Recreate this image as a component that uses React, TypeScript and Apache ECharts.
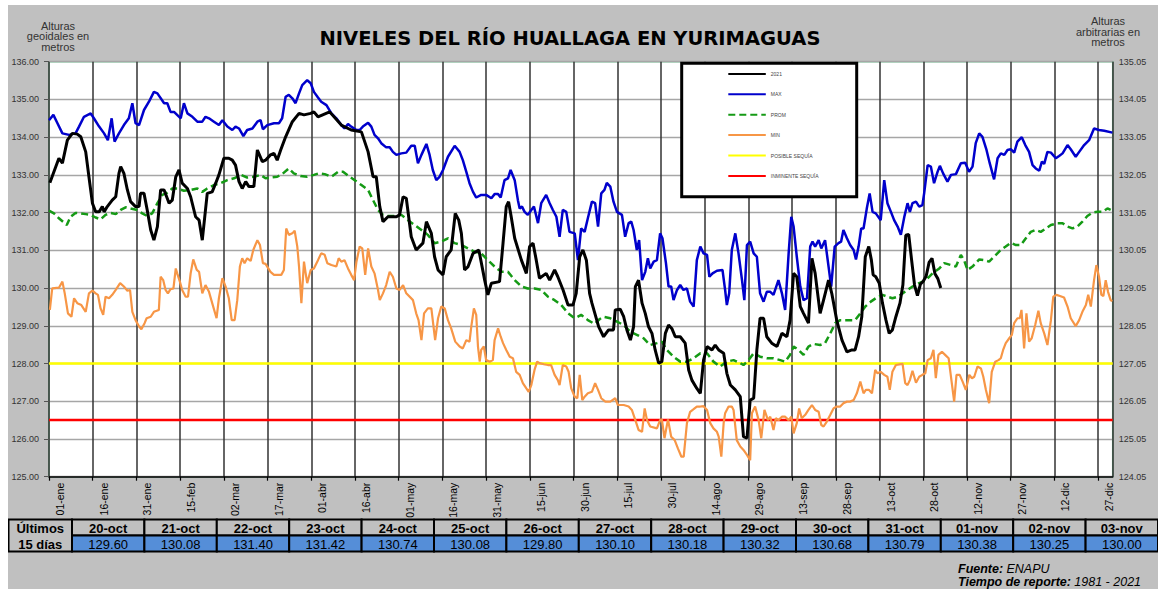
import React, { useEffect, useRef } from "react";
import * as echarts from "echarts";

// ---------- DATA ----------
const xTickLabels = [
  "01-ene", "16-ene", "31-ene", "15-feb", "02-mar", "17-mar", "01-abr", "16-abr", "01-may",
  "16-may", "31-may", "15-jun", "30-jun", "15-jul", "30-jul", "14-ago", "29-ago", "13-sep",
  "28-sep", "13-oct", "28-oct", "12-nov", "27-nov", "12-dic", "27-dic",
];
const RIGHT_AXIS_OFFSET = 0.95; // alturas arbitrarias = geoidales - 0.95
const POSIBLE_SEQUIA = 128.0;
const INMINENTE_SEQUIA = 126.5;

const tableDates = [
  "20-oct", "21-oct", "22-oct", "23-oct", "24-oct", "25-oct", "26-oct", "27-oct",
  "28-oct", "29-oct", "30-oct", "31-oct", "01-nov", "02-nov", "03-nov",
];
const tableValues = [
  129.6, 130.08, 131.4, 131.42, 130.74, 130.08, 129.8, 130.1, 130.18, 130.32, 130.68, 130.79,
  130.38, 130.25, 130.0,
];
const TABLE_FIRST_DAY = 292; // 20-oct (day of year, 0 = 01-ene)

// 2021 levels (day of year, metres) up to 19-oct
const nivel2021Read: [number, number][] = [
  [0.3, 132.79], [3.4, 133.44], [4.6, 133.31], [6.3, 133.92], [8.0, 134.1], [9.7, 134.08], [10.9, 134.01],
  [12.6, 133.61], [13.7, 132.95], [14.9, 132.25], [16.0, 132.02], [17.2, 132.02], [18.3, 132.16],
  [18.9, 132.02], [20.0, 132.16], [21.7, 132.33], [22.9, 132.42], [24.0, 133.04], [24.6, 133.22],
  [25.7, 133.04], [26.9, 132.6], [28.0, 132.29], [29.7, 132.16], [30.9, 132.16], [31.4, 132.51],
  [32.6, 132.51], [33.7, 132.07], [34.9, 131.54], [36.0, 131.27], [37.2, 131.63], [38.3, 132.6],
  [39.5, 132.6], [41.2, 132.25], [42.3, 132.33], [43.5, 132.95], [44.6, 133.13], [45.7, 132.78],
  [47.5, 132.64], [48.6, 132.42], [50.3, 131.89], [51.5, 131.8], [52.6, 131.27], [54.3, 132.51],
  [56.0, 132.55], [57.2, 132.78], [58.3, 133.0], [60.0, 133.44], [61.7, 133.44], [62.9, 133.39],
  [64.0, 133.26], [65.2, 132.82], [66.3, 132.64], [67.5, 132.82], [68.6, 132.69], [70.3, 132.69],
  [71.5, 133.66], [73.2, 133.35], [74.3, 133.39], [76.0, 133.53], [77.2, 133.57], [78.3, 133.39],
  [79.5, 133.66], [81.2, 134.01], [83.5, 134.41], [85.8, 134.63], [87.5, 134.59], [89.8, 134.63],
  [90.9, 134.67], [92.3, 134.54], [96.3, 134.67], [100.3, 134.32], [103.7, 134.19], [107.2, 134.14],
  [109.5, 133.61], [111.2, 132.95], [112.3, 132.95], [113.5, 132.16], [114.6, 131.76], [116.3, 131.89],
  [119.2, 131.89], [120.3, 131.94], [121.5, 132.42], [122.6, 132.38], [124.3, 131.36], [126.0, 131.01],
  [128.3, 131.19], [129.5, 131.76], [131.2, 131.45], [132.3, 130.83], [133.5, 130.48], [135.2, 130.35],
  [136.3, 130.83], [138.0, 131.01], [139.4, 131.98], [140.6, 131.8], [141.5, 131.45], [142.6, 130.48],
  [143.8, 130.57], [145.5, 130.92], [147.5, 131.01], [149.5, 130.21], [150.6, 129.82], [151.8, 130.13],
  [154.6, 130.17], [155.8, 131.19], [156.9, 132.16], [157.7, 132.29], [158.6, 131.89], [159.8, 131.32],
  [162.1, 130.74], [163.8, 130.39], [164.9, 131.1], [166.1, 131.19], [167.2, 130.74], [168.3, 130.26],
  [170.6, 130.39], [171.8, 130.21], [173.5, 130.48], [174.6, 130.3], [176.4, 129.95], [178.1, 129.55],
  [179.8, 129.55], [180.9, 129.86], [182.1, 130.83], [183.2, 131.01], [184.4, 130.74], [185.5, 129.86],
  [186.3, 129.6], [188.6, 128.98], [190.3, 128.71], [192.0, 128.89], [193.7, 128.89], [194.3, 129.42],
  [196.0, 129.44], [197.2, 129.24], [198.3, 128.89], [199.5, 128.62], [200.6, 128.98], [201.2, 130.04],
  [202.3, 130.21], [203.5, 129.6], [204.6, 129.33], [205.7, 128.98], [206.9, 128.8], [208.0, 128.36],
  [209.2, 128.01], [210.3, 128.05], [211.5, 128.8], [212.6, 129.02], [213.7, 128.93], [214.9, 128.71],
  [216.6, 128.71], [218.3, 128.54], [219.5, 127.83], [220.6, 127.56], [222.3, 127.34], [223.5, 127.21],
  [224.6, 128.09], [225.8, 128.45], [227.5, 128.36], [228.6, 128.49], [229.8, 128.36], [231.5, 128.27],
  [232.6, 127.74], [233.8, 127.43], [235.5, 127.3], [237.2, 127.12], [238.3, 126.06], [239.5, 126.02],
  [240.6, 127.03], [241.8, 127.08], [242.9, 128.36], [244.0, 129.2], [245.2, 129.2], [246.3, 128.71],
  [248.0, 128.54], [249.8, 128.45], [251.5, 128.8], [253.2, 128.71], [254.3, 129.15], [255.5, 130.39],
  [256.6, 130.3], [257.8, 129.51], [258.9, 129.33], [260.6, 129.07], [261.8, 130.79], [262.9, 130.39],
  [264.6, 129.33], [265.8, 129.69], [267.5, 130.21], [268.6, 129.86], [270.3, 129.15], [272.1, 128.62],
  [273.8, 128.31], [275.5, 128.36], [276.6, 128.36], [277.8, 128.71], [278.9, 129.24], [280.1, 130.83],
  [281.3, 131.1], [282.2, 130.74], [282.8, 130.35], [283.7, 130.3], [284.9, 130.13], [286.0, 129.6],
  [287.2, 129.15], [288.3, 128.8], [289.4, 128.89], [290.6, 129.24],
];

const nivelMax: [number, number][] = [
  [0, 134.45], [1.5, 134.59], [2.9, 134.37], [4.6, 134.1], [6.9, 134.06], [9.1, 134.1], [10.3, 134.28],
  [12.0, 134.54], [14.3, 134.63], [15.4, 134.5], [17.2, 134.28], [18.9, 134.1], [20.2, 133.92],
  [21.5, 134.5], [22.5, 133.88], [24.0, 134.1], [25.7, 134.32], [27.4, 134.5], [28.6, 134.9],
  [29.7, 134.37], [30.9, 134.32], [32.6, 134.72], [34.3, 134.94], [36.0, 135.2], [37.2, 135.16],
  [39.5, 134.9], [40.6, 134.9], [41.7, 134.67], [42.9, 134.67], [45.2, 134.5], [46.3, 134.9],
  [47.5, 134.63], [49.2, 134.54], [50.9, 134.41], [52.6, 134.41], [53.7, 134.54], [54.9, 134.5],
  [56.6, 134.41], [58.3, 134.32], [59.5, 134.45], [61.2, 134.28], [62.9, 134.19], [64.0, 134.28],
  [65.2, 134.23], [66.7, 134.03], [68.0, 134.19], [69.8, 134.23], [71.5, 134.41], [72.6, 134.45],
  [73.4, 134.21], [74.9, 134.32], [77.2, 134.37], [78.9, 134.37], [80.0, 134.5], [81.2, 135.07],
  [82.3, 135.12], [83.5, 135.03], [84.6, 134.9], [85.8, 135.16], [86.9, 135.38], [88.6, 135.51],
  [89.8, 135.43], [90.9, 135.2], [92.3, 135.05], [93.4, 134.94], [95.2, 134.85], [96.9, 134.63],
  [98.6, 134.5], [100.3, 134.32], [101.4, 134.23], [102.6, 134.35], [103.7, 134.28], [105.5, 134.19],
  [106.6, 134.19], [107.7, 134.28], [109.5, 134.38], [110.6, 134.28], [111.7, 134.06], [112.9, 133.97],
  [114.0, 133.84], [115.7, 133.73], [116.9, 133.73], [118.0, 133.61], [119.2, 133.53], [120.9, 133.57],
  [122.6, 133.59], [124.3, 133.77], [125.5, 133.77], [126.6, 133.31], [127.8, 133.53], [129.5, 133.82],
  [130.6, 133.53], [131.7, 133.13], [132.9, 132.86], [134.0, 132.95], [135.2, 133.13], [136.9, 133.48],
  [139.2, 133.77], [140.9, 133.61], [142.0, 133.39], [143.2, 133.08], [144.3, 132.78], [145.5, 132.55],
  [146.6, 132.4], [148.3, 132.47], [150.0, 132.47], [151.8, 132.38], [152.9, 132.49], [154.1, 132.49],
  [155.0, 132.4], [156.3, 132.86], [157.5, 132.91], [158.4, 133.13], [159.8, 132.86], [160.9, 132.33],
  [161.5, 132.11], [162.3, 132.16], [163.2, 132.02], [164.3, 131.94], [165.5, 132.07], [166.4, 132.16],
  [167.8, 131.72], [168.9, 132.25], [170.6, 132.47], [171.8, 132.25], [172.9, 132.07], [174.1, 131.89],
  [175.2, 131.36], [176.3, 132.07], [177.5, 132.02], [178.6, 131.49], [180.4, 131.45], [181.5, 130.74],
  [182.6, 131.58], [183.8, 131.49], [184.9, 131.85], [186.3, 132.29], [187.4, 132.25], [188.4, 131.63],
  [189.5, 132.51], [190.6, 132.6], [191.4, 132.79], [192.6, 132.69], [193.7, 132.29], [194.9, 132.02],
  [196.6, 131.94], [197.7, 131.36], [198.9, 131.72], [199.8, 131.76], [200.6, 131.54], [201.7, 131.01],
  [202.5, 131.27], [203.5, 130.21], [204.6, 130.43], [205.5, 130.79], [206.3, 130.52], [207.5, 130.7],
  [208.6, 130.74], [209.7, 131.45], [210.5, 131.32], [211.7, 130.66], [212.6, 130.04], [213.5, 130.04],
  [214.3, 129.68], [215.5, 129.95], [216.6, 130.08], [217.7, 129.95], [218.9, 129.99], [220.0, 129.64],
  [221.2, 129.51], [222.3, 130.74], [223.5, 131.1], [224.6, 130.92], [225.8, 130.88], [226.6, 130.3],
  [227.7, 130.39], [229.2, 130.46], [231.1, 130.48], [232.0, 129.95], [232.6, 129.55], [233.4, 129.86],
  [234.3, 131.01], [235.5, 131.45], [236.6, 130.92], [237.8, 130.21], [238.6, 129.68], [239.5, 131.14],
  [240.6, 131.23], [241.8, 130.92], [242.9, 130.83], [244.0, 129.86], [245.2, 129.64], [246.3, 129.9],
  [247.5, 129.9], [248.6, 129.82], [250.3, 130.21], [251.5, 129.86], [252.6, 129.42], [253.8, 130.92],
  [254.7, 131.89], [255.5, 131.63], [256.6, 130.83], [257.8, 130.04], [258.9, 129.68], [260.1, 129.73],
  [261.2, 131.1], [262.0, 131.23], [262.9, 131.1], [264.1, 131.27], [265.0, 131.05], [266.3, 131.27],
  [267.5, 130.57], [268.4, 130.04], [269.6, 131.1], [270.9, 131.19], [271.8, 131.23], [272.6, 131.54],
  [273.8, 131.32], [274.9, 131.14], [276.1, 131.01], [276.9, 130.76], [277.8, 131.1], [278.7, 131.58],
  [279.5, 131.58], [280.6, 132.1], [281.6, 132.51], [282.6, 132.02], [283.7, 131.98], [285.4, 131.8],
  [286.6, 132.86], [287.7, 132.25], [288.9, 132.02], [290.0, 131.8], [291.2, 131.63], [292.3, 131.41],
  [293.5, 131.89], [294.6, 132.25], [295.4, 132.02], [296.3, 132.25], [297.5, 132.29], [298.6, 132.16],
  [299.7, 132.2], [300.3, 132.51], [301.5, 133.26], [302.6, 133.22], [303.7, 132.78], [304.9, 133.08],
  [305.7, 133.24], [306.8, 133.04], [308.3, 132.82], [309.5, 133.0], [311.2, 133.02], [312.9, 133.31],
  [314.4, 133.32], [315.7, 133.08], [316.9, 133.22], [318.0, 133.84], [319.2, 134.1], [320.3, 134.01],
  [321.7, 133.66], [322.8, 133.31], [324.3, 132.88], [325.5, 133.44], [326.6, 133.57], [327.8, 133.53],
  [328.9, 133.66], [330.0, 133.68], [331.2, 133.59], [332.3, 133.88], [333.8, 134.0], [335.0, 133.79],
  [336.3, 133.61], [337.5, 133.26], [338.6, 133.17], [339.8, 133.11], [340.7, 133.35], [341.5, 133.29],
  [342.6, 133.61], [343.8, 133.59], [345.5, 133.44], [346.6, 133.5], [347.8, 133.57], [349.5, 133.79],
  [350.6, 133.68], [352.3, 133.48], [353.5, 133.61], [355.2, 133.79], [356.9, 133.92], [358.6, 134.23],
  [360.3, 134.19], [362.1, 134.17], [364.9, 134.12],
];

const nivelProm: [number, number][] = [
  [0, 132.05], [1.7, 131.98], [3.4, 131.85], [6.1, 131.67], [7.4, 131.89], [9.1, 131.99], [10.9, 131.98],
  [12.6, 131.96], [14.3, 131.94], [16.0, 131.87], [17.7, 131.82], [19.4, 131.94], [21.2, 131.99],
  [22.9, 131.96], [24.6, 132.07], [26.3, 132.14], [28.0, 132.11], [30.3, 132.07], [32.0, 131.98],
  [33.7, 131.91], [35.4, 131.98], [37.2, 132.25], [38.9, 132.47], [40.6, 132.53], [42.3, 132.64],
  [44.0, 132.64], [46.3, 132.58], [48.6, 132.6], [50.9, 132.64], [52.6, 132.55], [54.3, 132.64],
  [56.6, 132.73], [58.9, 132.78], [61.2, 132.86], [63.5, 132.91], [65.8, 133.0], [68.0, 132.93],
  [70.3, 132.95], [72.6, 133.0], [74.3, 132.91], [76.0, 132.93], [78.3, 132.95], [80.0, 133.02],
  [82.3, 133.17], [84.0, 133.04], [86.3, 132.97], [88.6, 132.95], [90.9, 133.0], [92.6, 133.04],
  [94.6, 133.02], [96.9, 132.95], [99.2, 133.08], [100.9, 133.08], [103.2, 132.95], [104.9, 132.86],
  [107.2, 132.73], [109.5, 132.6], [111.2, 132.33], [112.9, 132.07], [114.6, 131.94], [116.3, 131.91],
  [118.6, 131.91], [120.9, 131.94], [123.2, 131.8], [125.5, 131.67], [127.8, 131.54], [130.0, 131.41],
  [132.3, 131.19], [134.6, 131.23], [136.9, 131.32], [139.2, 131.19], [141.5, 131.14], [143.8, 131.05],
  [146.1, 130.96], [148.3, 130.92], [150.6, 130.74], [152.9, 130.57], [155.2, 130.43], [157.5, 130.43],
  [159.8, 130.21], [162.1, 130.04], [164.3, 129.99], [166.6, 129.99], [168.9, 129.95], [171.2, 129.77],
  [173.5, 129.68], [175.8, 129.55], [178.1, 129.33], [180.4, 129.2], [182.6, 129.29], [184.9, 129.15],
  [187.2, 129.05], [189.0, 129.18], [190.3, 129.24], [192.6, 129.2], [194.9, 129.11], [197.2, 129.02],
  [199.5, 128.84], [201.7, 128.76], [204.0, 128.67], [206.3, 128.49], [208.6, 128.54], [210.3, 128.58],
  [212.0, 128.36], [214.3, 128.18], [216.6, 128.05], [218.9, 128.05], [221.2, 128.14], [223.5, 128.27],
  [225.8, 128.27], [228.0, 128.05], [230.3, 127.92], [232.6, 128.05], [234.9, 128.09], [237.2, 128.01],
  [238.3, 127.96], [240.0, 128.09], [241.8, 128.27], [244.0, 128.18], [246.3, 128.14], [248.6, 128.14],
  [250.9, 128.09], [252.6, 128.05], [254.3, 128.23], [255.5, 128.45], [257.2, 128.36], [258.9, 128.23],
  [260.6, 128.45], [262.3, 128.52], [264.6, 128.49], [266.3, 128.54], [268.1, 128.8], [269.8, 129.07],
  [271.5, 129.15], [273.8, 129.15], [276.6, 129.15], [278.4, 129.33], [280.1, 129.51], [282.0, 129.64],
  [283.7, 129.73], [286.0, 129.82], [287.7, 129.77], [289.4, 129.73], [291.2, 129.77], [292.9, 129.86],
  [294.6, 129.95], [296.3, 130.04], [298.6, 130.13], [300.9, 130.21], [303.2, 130.39], [305.5, 130.52],
  [307.2, 130.66], [309.5, 130.61], [311.2, 130.57], [312.9, 130.88], [314.0, 130.74], [315.2, 130.48],
  [316.9, 130.57], [319.2, 130.76], [320.9, 130.74], [322.6, 130.7], [324.3, 130.83], [326.6, 131.01],
  [328.3, 131.1], [330.0, 131.2], [331.8, 131.14], [333.5, 131.14], [335.2, 131.32], [336.9, 131.49],
  [338.6, 131.54], [340.3, 131.49], [342.1, 131.58], [343.8, 131.67], [346.1, 131.72], [347.8, 131.72],
  [349.5, 131.63], [351.2, 131.58], [352.9, 131.63], [354.6, 131.76], [356.3, 131.91], [358.1, 132.0],
  [359.8, 132.02], [361.5, 132.02], [363.2, 132.11], [364.3, 132.07],
];

const nivelMin: [number, number][] = [
  [0.3, 129.42], [1.1, 129.99], [3.4, 130.01], [4.6, 130.17], [5.4, 129.86], [6.5, 129.33], [7.7, 129.24],
  [8.6, 129.73], [9.7, 129.6], [11.1, 129.55], [12.6, 129.37], [13.7, 129.86], [14.9, 129.93],
  [16.0, 129.86], [16.8, 129.82], [17.7, 129.46], [18.6, 129.29], [19.4, 129.77], [20.6, 129.73],
  [21.7, 129.82], [22.9, 129.95], [24.4, 130.13], [25.7, 130.04], [26.9, 129.93], [27.8, 129.95],
  [28.6, 129.37], [29.7, 129.15], [30.9, 128.98], [31.7, 128.91], [32.8, 129.07], [33.5, 129.2],
  [34.9, 129.24], [36.0, 129.37], [37.7, 129.42], [38.3, 130.3], [39.2, 130.21], [40.0, 129.95],
  [40.8, 129.86], [41.7, 129.97], [42.7, 129.99], [43.5, 130.52], [44.0, 130.39], [44.9, 130.17],
  [45.7, 129.95], [46.9, 129.77], [47.7, 129.77], [48.6, 130.39], [49.5, 130.76], [50.7, 130.48],
  [51.5, 130.43], [52.6, 129.86], [53.7, 130.08], [54.9, 129.9], [56.0, 129.6], [57.5, 129.2],
  [58.3, 129.73], [59.5, 130.26], [60.6, 130.04], [61.7, 129.73], [62.7, 129.15], [63.7, 129.15],
  [64.6, 129.68], [65.5, 130.57], [66.3, 130.79], [67.1, 130.66], [68.0, 130.79], [69.2, 130.72],
  [70.1, 131.01], [71.5, 131.27], [72.4, 131.14], [73.4, 130.66], [74.3, 130.64], [76.0, 130.43],
  [77.2, 130.35], [79.7, 130.35], [80.6, 130.48], [81.4, 131.58], [82.3, 131.41], [83.5, 131.45],
  [84.3, 131.52], [85.2, 131.1], [85.8, 130.57], [86.6, 129.6], [87.5, 130.7], [88.0, 130.43],
  [88.6, 130.13], [89.8, 130.48], [90.9, 130.52], [92.3, 130.74], [93.4, 130.92], [94.6, 130.88],
  [95.5, 130.66], [96.9, 130.61], [98.6, 130.57], [99.4, 130.79], [100.3, 130.7], [101.4, 130.74],
  [102.6, 130.52], [103.7, 130.35], [104.7, 130.21], [105.5, 130.7], [106.6, 131.1], [107.5, 131.05],
  [108.5, 130.35], [109.5, 131.05], [110.6, 130.57], [111.7, 130.39], [112.9, 129.95], [113.5, 129.68],
  [114.6, 129.86], [115.7, 130.08], [116.9, 130.43], [118.0, 130.3], [119.2, 129.99], [120.3, 129.95],
  [121.5, 130.08], [122.6, 129.86], [124.9, 129.68], [126.0, 129.33], [126.8, 129.15], [127.8, 128.62],
  [128.7, 129.33], [130.0, 129.46], [131.2, 129.46], [132.5, 128.62], [133.5, 129.2], [134.6, 129.51],
  [135.8, 129.46], [136.9, 129.15], [138.0, 128.93], [139.4, 128.58], [140.9, 128.45], [142.0, 128.4],
  [143.2, 128.62], [144.3, 128.58], [144.9, 128.98], [145.8, 129.46], [146.6, 129.29], [147.2, 128.45],
  [147.8, 128.05], [148.3, 128.36], [149.2, 128.45], [150.0, 128.09], [151.2, 128.05], [152.3, 128.09],
  [152.9, 128.62], [154.1, 128.93], [155.0, 128.71], [155.8, 128.54], [156.9, 128.36], [158.1, 128.18],
  [159.2, 128.14], [160.3, 127.78], [161.5, 127.7], [162.6, 127.48], [163.8, 127.34], [164.6, 127.25],
  [165.5, 127.43], [166.6, 127.83], [167.5, 128.05], [168.3, 128.01], [169.8, 127.98], [171.2, 127.96],
  [172.3, 127.96], [173.5, 127.7], [174.6, 127.56], [175.2, 127.43], [176.3, 127.96], [177.5, 127.92],
  [178.3, 127.78], [179.2, 127.34], [180.4, 127.12], [181.3, 127.08], [182.1, 127.7], [183.0, 127.03],
  [183.8, 127.12], [184.9, 127.21], [186.3, 127.25], [187.4, 127.48], [188.4, 127.3], [189.5, 127.08],
  [190.9, 126.99], [192.6, 126.99], [194.3, 127.08], [195.2, 126.9], [197.2, 126.9], [198.9, 126.86],
  [200.0, 126.77], [201.2, 126.5], [202.3, 126.24], [203.5, 126.19], [204.4, 126.81], [205.2, 126.5],
  [206.3, 126.33], [208.6, 126.28], [209.7, 126.5], [210.3, 126.52], [211.2, 126.02], [212.4, 126.52],
  [213.5, 126.06], [214.7, 125.97], [215.8, 125.75], [217.0, 125.53], [217.8, 125.53], [218.9, 126.42],
  [220.0, 126.72], [221.2, 126.79], [222.3, 126.86], [223.5, 126.86], [224.6, 126.87], [225.8, 126.77],
  [226.9, 126.42], [228.0, 126.28], [229.2, 126.19], [229.8, 126.06], [230.7, 125.53], [231.5, 126.42],
  [232.0, 126.68], [233.2, 126.86], [234.3, 126.86], [234.9, 126.77], [236.0, 125.97], [237.2, 125.8],
  [238.3, 125.71], [239.5, 125.58], [240.6, 125.44], [241.2, 126.68], [242.3, 126.86], [243.5, 126.5],
  [244.4, 126.02], [245.5, 126.77], [246.7, 126.5], [247.5, 126.59], [248.6, 126.24], [249.4, 126.55],
  [250.3, 126.5], [251.5, 126.59], [252.6, 126.59], [253.8, 126.5], [254.7, 126.59], [255.5, 126.15],
  [256.6, 126.42], [257.4, 126.81], [258.3, 126.55], [259.5, 126.64], [260.6, 126.77], [261.8, 126.9],
  [262.9, 126.77], [264.1, 126.72], [265.0, 126.37], [265.8, 126.33], [266.9, 126.46], [268.1, 126.64],
  [269.2, 126.81], [270.3, 126.86], [271.5, 126.86], [272.6, 126.95], [273.8, 126.99], [274.9, 126.99],
  [276.1, 127.03], [277.2, 127.21], [278.4, 127.52], [279.5, 127.21], [280.3, 127.3], [281.4, 127.3],
  [282.4, 127.21], [283.5, 127.83], [284.3, 127.74], [285.4, 127.78], [286.6, 127.7], [287.7, 127.65],
  [288.5, 127.3], [289.4, 127.78], [290.6, 127.96], [292.9, 127.99], [293.8, 127.48], [294.6, 127.43],
  [295.4, 127.56], [296.3, 127.81], [297.5, 127.49], [298.6, 127.65], [299.7, 127.7], [300.7, 127.74],
  [301.5, 128.09], [302.6, 128.14], [303.5, 128.36], [304.3, 127.61], [305.2, 128.23], [306.4, 128.31],
  [307.5, 128.23], [308.7, 128.14], [309.5, 127.65], [310.6, 126.99], [311.4, 127.7], [312.5, 127.7],
  [313.5, 127.52], [314.6, 127.3], [315.8, 127.7], [316.7, 127.61], [317.5, 127.65], [318.6, 127.92],
  [319.8, 127.87], [320.6, 127.65], [321.5, 127.3], [322.6, 126.95], [323.5, 127.78], [324.7, 128.05],
  [325.8, 128.09], [326.6, 128.14], [327.4, 128.36], [328.3, 128.54], [329.5, 128.67], [330.4, 128.76],
  [331.2, 129.07], [332.3, 129.2], [333.1, 129.2], [333.7, 129.42], [334.6, 128.4], [335.4, 129.33],
  [336.3, 128.58], [337.2, 128.67], [338.4, 129.02], [339.5, 129.4], [340.3, 129.07], [341.5, 128.8],
  [342.6, 128.49], [343.8, 129.15], [344.6, 129.77], [345.7, 129.82], [346.9, 129.79], [348.3, 129.75],
  [349.5, 129.51], [350.6, 129.2], [352.3, 128.99], [353.5, 129.15], [354.6, 129.37], [355.8, 129.55],
  [356.6, 129.82], [357.5, 129.51], [358.6, 130.21], [359.4, 130.61], [360.3, 130.3], [361.1, 129.82],
  [361.8, 129.79], [362.6, 130.21], [363.4, 129.9], [364.3, 129.68], [364.9, 129.66],
];

// ---------- LAYOUT / STYLE ----------
const FONT = "'Liberation Sans', Arial, sans-serif";
const W = 1158;
const H = 589;
const BG = "#C0C0C0";

export default function App() {
  const ref = useRef<HTMLDivElement>(null);

  useEffect(() => {
    const chart = echarts.init(ref.current!, null, { renderer: "svg", width: W, height: H });

    const nivel2021: [number, number][] = [
      ...nivel2021Read,
      ...tableValues.map((v, i) => [TABLE_FIRST_DAY + i, v] as [number, number]),
    ];

    // table graphics
    const tLeft = 8.5;
    const tTop = 519.5;
    const rowH = 16;
    const firstW = 72 - tLeft;
    const cellW = (W - 72) / tableDates.length;
    const tableEls: any[] = [
      {
        type: "rect",
        z: 50,
        shape: { x: tLeft, y: tTop, width: firstW, height: rowH * 2 },
        style: { fill: BG, stroke: "#000", lineWidth: 2 },
      },
      {
        type: "text",
        z: 51,
        x: tLeft + firstW / 2,
        y: tTop + rowH / 2 + 0.5,
        style: { text: "Últimos", font: `bold 13px ${FONT}`, fill: "#000", align: "center", verticalAlign: "middle" },
      },
      {
        type: "text",
        z: 51,
        x: tLeft + firstW / 2,
        y: tTop + rowH * 1.5 + 0.5,
        style: { text: "15 días", font: `bold 13px ${FONT}`, fill: "#000", align: "center", verticalAlign: "middle" },
      },
    ];
    tableDates.forEach((d, i) => {
      const x = 72 + i * cellW;
      tableEls.push(
        {
          type: "rect",
          z: 50,
          shape: { x, y: tTop, width: cellW, height: rowH },
          style: { fill: BG, stroke: "#000", lineWidth: 2 },
        },
        {
          type: "rect",
          z: 50,
          shape: { x, y: tTop + rowH, width: cellW, height: rowH },
          style: { fill: "#558ED8", stroke: "#000", lineWidth: 2 },
        },
        {
          type: "text",
          z: 51,
          x: x + cellW / 2,
          y: tTop + rowH / 2 + 0.5,
          style: { text: d, font: `bold 13px ${FONT}`, fill: "#000", align: "center", verticalAlign: "middle" },
        },
        {
          type: "text",
          z: 51,
          x: x + cellW / 2,
          y: tTop + rowH * 1.5 + 0.5,
          style: {
            text: tableValues[i].toFixed(2),
            font: `13px ${FONT}`,
            fill: "#000",
            align: "center",
            verticalAlign: "middle",
          },
        }
      );
    });

    const lineSeries = (name: string, data: [number, number][], color: string, width: number, z: number, type: any = "solid") => ({
      name,
      type: "line",
      data,
      symbol: "none",
      z,
      lineStyle: { color, width, type },
      itemStyle: { color },
      emphasis: { disabled: true },
    });

    const footRich = {
      b: { fontWeight: "bold", fontStyle: "italic", fontSize: 12.5, fontFamily: FONT, fill: "#000" },
      i: { fontStyle: "italic", fontSize: 12.5, fontFamily: FONT, fill: "#000" },
    };

    const option: any = {
      animation: false,
      backgroundColor: BG,
      textStyle: { fontFamily: FONT },
      title: {
        text: "NIVELES DEL RÍO HUALLAGA EN YURIMAGUAS",
        left: 565,
        top: 23,
        textAlign: "center",
        textStyle: { fontSize: 19.5, fontWeight: "bold", color: "#000", fontFamily: "'DejaVu Sans', sans-serif" },
      },
      grid: {
        left: 49,
        top: 61.7,
        right: W - 1112.7,
        bottom: H - 476.7,
        show: true,
        backgroundColor: "#fff",
        borderColor: "#6cbf8f",
        borderWidth: 1.5,
      },
      legend: {
        orient: "vertical",
        left: 727.3,
        top: 70.7,
        itemWidth: 37.5,
        itemHeight: 8,
        itemGap: 14,
        padding: 0,
        z: 60,
        selectedMode: false,
        itemStyle: { opacity: 0 },
        lineStyle: { width: 2 },
        textStyle: { fontSize: 5, color: "#444", fontFamily: FONT },
        data: ["2021", "MAX", "PROM", "MIN", "POSIBLE SEQUÍA", "INMINENTE SEQUÍA"],
      },
      xAxis: {
        type: "value",
        min: 0,
        max: 365,
        interval: 15,
        axisLine: { show: true, lineStyle: { color: "#000", width: 1.5 } },
        axisTick: { show: true, length: 4, lineStyle: { color: "#000", width: 1.2 } },
        axisLabel: {
          rotate: 90,
          margin: 6,
          fontSize: 10.5,
          color: "#000",
          verticalAlign: "top",
          lineHeight: 22,
          showMaxLabel: false,
          formatter: (v: number) => (v % 15 === 0 ? xTickLabels[v / 15] ?? "" : ""),
        },
        splitLine: { show: true, lineStyle: { color: "#333", width: 1.5 } },
      },
      yAxis: [
        {
          type: "value",
          min: 125,
          max: 136,
          interval: 1,
          position: "left",
          axisLine: { show: false },
          axisTick: { show: true, length: 5, lineStyle: { color: "#555" } },
          axisLabel: { margin: 10, fontSize: 9, color: "#333", formatter: (v: number) => v.toFixed(2) },
          splitLine: { show: true, lineStyle: { color: "#a6a6a6", width: 1.3 } },
        },
        {
          type: "value",
          min: 125,
          max: 136,
          interval: 1,
          position: "right",
          axisLine: { show: false },
          axisTick: { show: false },
          axisLabel: {
            margin: 6,
            fontSize: 9,
            color: "#333",
            formatter: (v: number) => (v - RIGHT_AXIS_OFFSET).toFixed(2),
          },
          splitLine: { show: false },
        },
      ],
      series: [
        lineSeries("POSIBLE SEQUÍA", [[0, POSIBLE_SEQUIA], [365, POSIBLE_SEQUIA]], "#FFFF00", 2.5, 2),
        lineSeries("INMINENTE SEQUÍA", [[0, INMINENTE_SEQUIA], [365, INMINENTE_SEQUIA]], "#FF0000", 2.5, 2),
        lineSeries("MIN", nivelMin, "#F79646", 2.2, 3),
        lineSeries("PROM", nivelProm, "#159a15", 2.5, 4, [7, 4]),
        lineSeries("MAX", nivelMax, "#0000CC", 2.5, 5),
        lineSeries("2021", nivel2021, "#000000", 3, 6),
      ],
      graphic: [
        { type: "rect", z: 100, shape: { x: 0, y: 0, width: W, height: 5 }, style: { fill: "#fff" }, silent: true },
        { type: "rect", z: 100, shape: { x: 0, y: 0, width: 8, height: H }, style: { fill: "#fff" }, silent: true },
        {
          type: "rect",
          z: 55,
          shape: { x: 681.7, y: 63.3, width: 175, height: 133.4 },
          style: { fill: "#fff", stroke: "#000", lineWidth: 3 },
          silent: true,
        },
        {
          type: "text",
          z: 51,
          x: 58,
          y: 20.5,
          style: {
            text: "Alturas\ngeoidales en\nmetros",
            font: `11px ${FONT}`,
            lineHeight: 10.5,
            fill: "#333",
            align: "center",
            verticalAlign: "top",
          },
        },
        {
          type: "text",
          z: 51,
          x: 1108,
          y: 16,
          style: {
            text: "Alturas\narbitrarias en\nmetros",
            font: `11px ${FONT}`,
            lineHeight: 10.5,
            fill: "#333",
            align: "center",
            verticalAlign: "top",
          },
        },
        {
          type: "text",
          z: 51,
          x: 958,
          y: 569,
          style: { text: "{b|Fuente:} {i|ENAPU}", verticalAlign: "middle", rich: footRich },
        },
        {
          type: "text",
          z: 51,
          x: 958,
          y: 582,
          style: { text: "{b|Tiempo de reporte:} {i|1981 - 2021}", verticalAlign: "middle", rich: footRich },
        },
        ...tableEls,
      ],
    };

    chart.setOption(option);
    return () => chart.dispose();
  }, []);

  return (
    <div
      ref={ref}
      style={{ position: "fixed", left: 0, top: 0, width: W, height: H, background: "#fff" }}
    />
  );
}
